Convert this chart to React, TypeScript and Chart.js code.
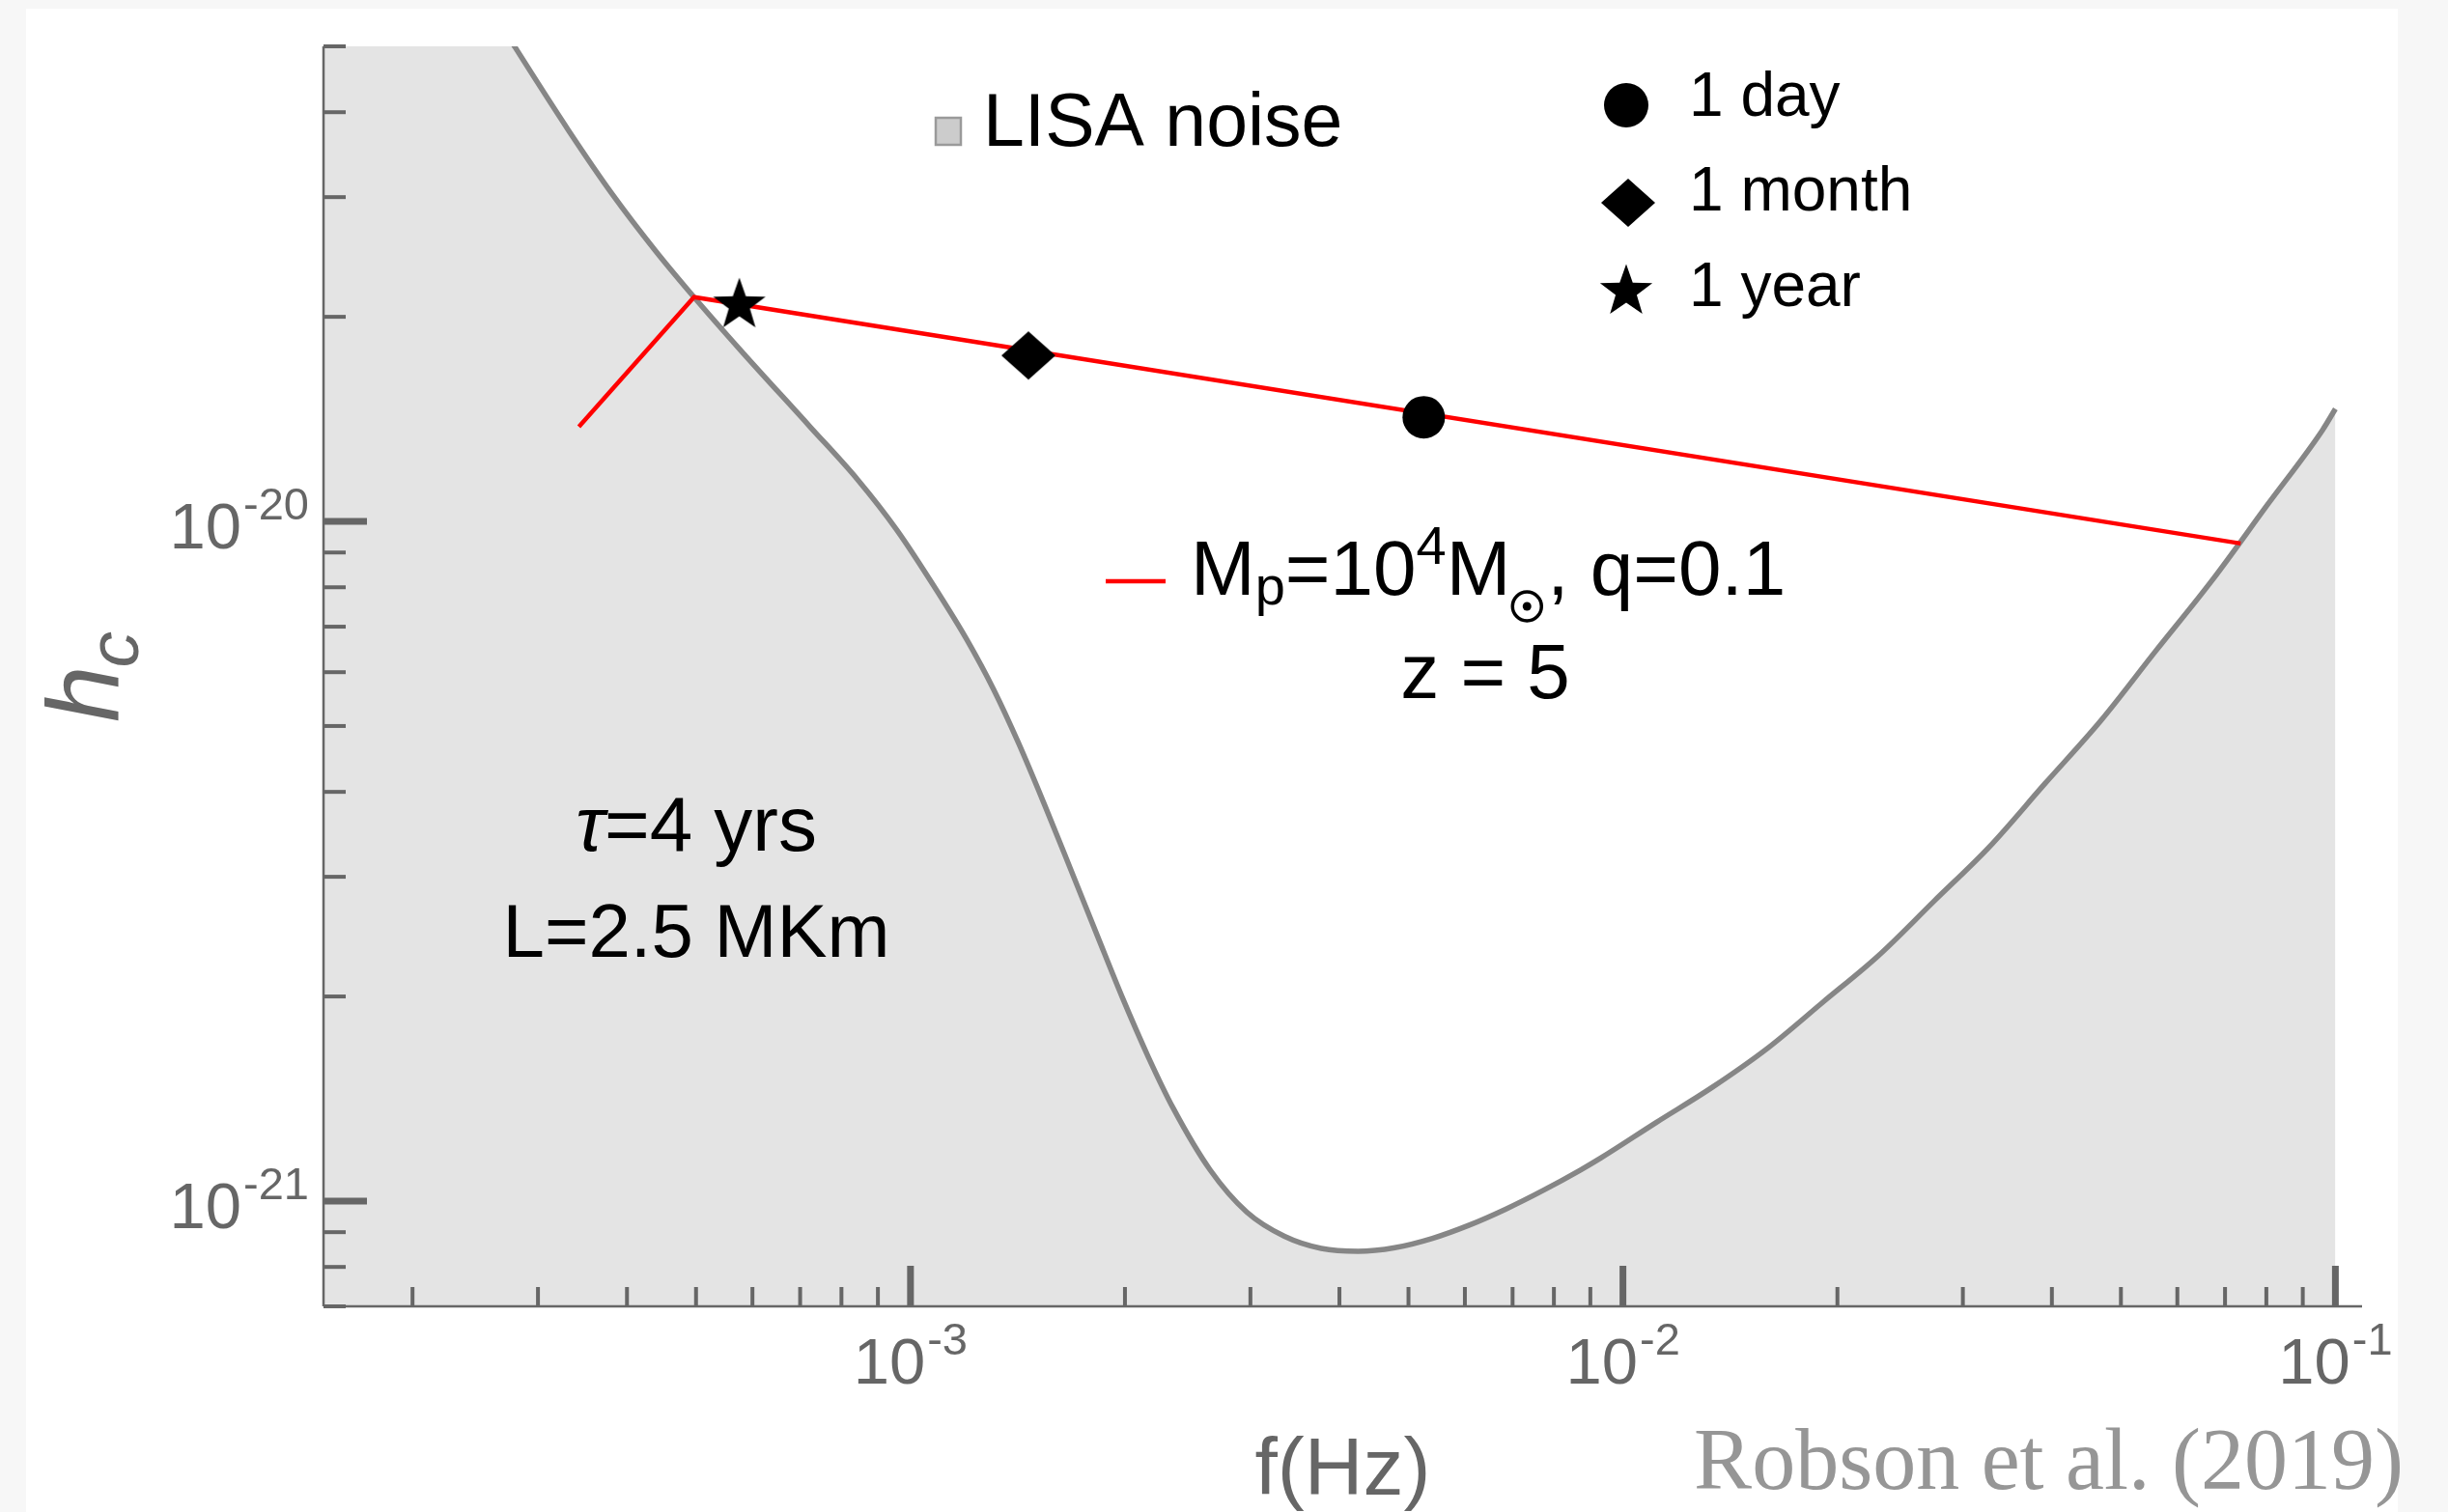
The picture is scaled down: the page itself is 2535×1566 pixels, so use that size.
import React, { useEffect, useRef } from "react";
import { Chart, registerables } from "chart.js";

Chart.register(...registerables);

// ---------------- data ----------------
const noiseFreq = [
  1.5e-4, 2.0e-4, 2.781e-4, 3.309e-4, 3.808e-4, 4.383e-4, 4.968e-4, 5.788e-4, 7.224e-4, 8.423e-4,
  9.572e-4, 1.098e-3, 1.199e-3, 1.308e-3, 1.419e-3, 1.544e-3, 1.68e-3, 1.828e-3, 1.982e-3, 2.157e-3,
  2.339e-3, 2.634e-3, 2.966e-3, 3.35e-3, 3.772e-3, 4.248e-3, 4.784e-3, 5.403e-3, 6.085e-3, 6.853e-3,
  7.717e-3, 8.717e-3, 9.307e-3, 1.112e-2, 1.333e-2, 1.598e-2, 1.91e-2, 2.282e-2, 2.735e-2, 3.268e-2,
  3.916e-2, 4.681e-2, 5.593e-2, 6.704e-2, 8.012e-2, 9.602e-2, 0.1,
];
const noiseHc = [
  1.5e-19, 8.7e-20, 5.0e-20, 3.766e-20, 3.038e-20, 2.504e-20, 2.138e-20, 1.781e-20, 1.379e-20, 1.153e-20,
  9.707e-21, 7.799e-21, 6.706e-21, 5.661e-21, 4.71e-21, 3.818e-21, 3.068e-21, 2.461e-21, 1.996e-21, 1.629e-21,
  1.368e-21, 1.111e-21, 9.628e-22, 8.872e-22, 8.517e-22, 8.434e-22, 8.539e-22, 8.814e-22, 9.218e-22, 9.735e-22,
  1.036e-21, 1.111e-21, 1.157e-21, 1.304e-21, 1.469e-21, 1.68e-21, 1.963e-21, 2.295e-21, 2.764e-21, 3.32e-21,
  4.119e-21, 5.085e-21, 6.443e-21, 8.175e-21, 1.055e-20, 1.365e-20, 1.464e-20,
];
const signalFreq = [3.424e-4, 4.968e-4, 7.362e-2];
const signalHc = [1.378e-20, 2.138e-20, 9.28e-21];

const markerLabels = ["1 day", "1 month", "1 year"];
const markerFreq = [5.253e-3, 1.464e-3, 5.751e-4];
const markerHc = [1.423e-20, 1.754e-20, 2.087e-20];

const xMajorExps = [-3, -2, -1];
const yMajorExps = [-21, -20];
const xDecades = [-4, -3, -2, -1];
const yDecades = [-22, -21, -20];

const X_MIN = 1.5e-4;
const X_MAX = 0.109;
const Y_MIN = 7e-22;
const Y_MAX = 5e-20;

const SANS = '"Liberation Sans", Arial, Helvetica, sans-serif';
const SERIF = '"Liberation Serif", "Times New Roman", serif';
const AXIS = "#666666";

function makeStar(): HTMLCanvasElement {
  const c = document.createElement("canvas");
  c.width = 60;
  c.height = 60;
  const g = c.getContext("2d")!;
  g.fillStyle = "#000";
  g.beginPath();
  const R = 28.5;
  const r = 11.5;
  for (let i = 0; i < 10; i++) {
    const a = -Math.PI / 2 + (i * Math.PI) / 5;
    const rad = i % 2 === 0 ? R : r;
    const px = 30 + rad * Math.cos(a);
    const py = 31 + rad * Math.sin(a);
    if (i === 0) g.moveTo(px, py);
    else g.lineTo(px, py);
  }
  g.closePath();
  g.fill();
  return c;
}

function makeDiamond(): HTMLCanvasElement {
  const c = document.createElement("canvas");
  c.width = 58;
  c.height = 52;
  const g = c.getContext("2d")!;
  g.fillStyle = "#000";
  g.beginPath();
  g.moveTo(29, 1);
  g.lineTo(57, 26);
  g.lineTo(29, 51);
  g.lineTo(1, 26);
  g.closePath();
  g.fill();
  return c;
}

function drawPow(ctx: CanvasRenderingContext2D, exp: number, x: number, baseline: number, align: string) {
  const base = "10";
  const sup = "-" + Math.abs(exp);
  ctx.font = `67px ${SANS}`;
  const w1 = ctx.measureText(base).width;
  ctx.font = `47px ${SANS}`;
  const w2 = ctx.measureText(sup).width;
  const gap = 2;
  const total = w1 + gap + w2;
  const start = align === "right" ? x - total : x - total / 2;
  ctx.textAlign = "left";
  ctx.textBaseline = "alphabetic";
  ctx.fillStyle = AXIS;
  ctx.font = `67px ${SANS}`;
  ctx.fillText(base, start, baseline);
  ctx.font = `47px ${SANS}`;
  ctx.fillText(sup, start + w1 + gap, baseline - 30);
}

export default function App() {
  const canvasRef = useRef<HTMLCanvasElement | null>(null);

  useEffect(() => {
    const canvas = canvasRef.current;
    if (!canvas) return;
    const star = makeStar();
    const diamond = makeDiamond();

    const decorPlugin = {
      id: "decor",
      beforeDraw(chart: any) {
        const ctx = chart.ctx as CanvasRenderingContext2D;
        ctx.save();
        ctx.fillStyle = "#f7f7f7";
        ctx.fillRect(0, 0, chart.width, chart.height);
        ctx.fillStyle = "#ffffff";
        ctx.fillRect(27, 9, 2456, chart.height - 9);
        ctx.restore();
      },
      afterDatasetsDraw(chart: any) {
        const ctx = chart.ctx as CanvasRenderingContext2D;
        const xs = chart.scales.x;
        const ys = chart.scales.y;
        const { left, right, top, bottom } = chart.chartArea;
        ctx.save();
        ctx.lineCap = "butt";
        ctx.strokeStyle = AXIS;

        // axis lines
        ctx.lineWidth = 2.5;
        ctx.beginPath();
        ctx.moveTo(left, top);
        ctx.lineTo(left, bottom);
        ctx.moveTo(left, bottom);
        ctx.lineTo(right, bottom);
        ctx.stroke();

        // x ticks
        for (const d of xDecades) {
          for (let m = 1; m <= 9; m++) {
            const v = m * Math.pow(10, d);
            if (v < X_MIN * 0.999 || v > X_MAX * 1.001) continue;
            const major = m === 1;
            const px = xs.getPixelForValue(v);
            ctx.lineWidth = major ? 7 : 4;
            ctx.beginPath();
            ctx.moveTo(px, bottom);
            ctx.lineTo(px, bottom - (major ? 42 : 20));
            ctx.stroke();
          }
        }
        // y ticks
        for (const d of yDecades) {
          for (let m = 1; m <= 9; m++) {
            const v = m * Math.pow(10, d);
            if (v < Y_MIN * 0.999 || v > Y_MAX * 1.001) continue;
            const major = m === 1;
            const py = ys.getPixelForValue(v);
            ctx.lineWidth = major ? 7 : 4;
            ctx.beginPath();
            ctx.moveTo(left, py);
            ctx.lineTo(left + (major ? 45 : 23), py);
            ctx.stroke();
          }
        }

        // tick labels
        for (const e of xMajorExps) {
          const px = xs.getPixelForValue(Math.pow(10, e));
          drawPow(ctx, e, px, bottom + 80, "center");
        }
        for (const e of yMajorExps) {
          const py = ys.getPixelForValue(Math.pow(10, e));
          drawPow(ctx, e, left - 15, py + 28, "right");
        }

        // axis titles
        ctx.fillStyle = AXIS;
        ctx.textAlign = "center";
        ctx.font = `84px ${SANS}`;
        ctx.fillText("f(Hz)", (left + right) / 2, 1548);

        ctx.save();
        ctx.translate(123, 748);
        ctx.rotate(-Math.PI / 2);
        ctx.textAlign = "left";
        ctx.font = `italic 105px ${SANS}`;
        ctx.fillText("h", 0, 0);
        const hw = ctx.measureText("h").width;
        ctx.font = `italic 75px ${SANS}`;
        ctx.fillText("c", hw - 2, 20);
        ctx.restore();

        // credit
        ctx.fillStyle = "#969696";
        ctx.textAlign = "right";
        ctx.font = `90px ${SERIF}`;
        ctx.fillText("Robson et al. (2019)", 2489, 1542);

        // annotation: tau / L
        ctx.fillStyle = "#000";
        ctx.textAlign = "left";
        ctx.font = `italic 80px ${SANS}`;
        const wt = ctx.measureText("τ").width;
        ctx.font = `80px ${SANS}`;
        const wr = ctx.measureText("=4 yrs").width;
        const sx = 721 - (wt + wr) / 2;
        ctx.font = `italic 80px ${SANS}`;
        ctx.fillText("τ", sx, 881);
        ctx.font = `80px ${SANS}`;
        ctx.fillText("=4 yrs", sx + wt, 881);
        ctx.textAlign = "center";
        ctx.font = `78px ${SANS}`;
        ctx.fillText("L=2.5 MKm", 721, 991);

        // LISA noise legend
        ctx.fillStyle = "#cccccc";
        ctx.fillRect(969, 122, 26, 28);
        ctx.strokeStyle = "#9a9a9a";
        ctx.lineWidth = 2.5;
        ctx.strokeRect(969, 122, 26, 28);
        ctx.fillStyle = "#000";
        ctx.textAlign = "left";
        ctx.font = `77px ${SANS}`;
        ctx.fillText("LISA noise", 1018, 151);

        // marker legend
        ctx.beginPath();
        ctx.arc(1684, 109, 23, 0, Math.PI * 2);
        ctx.fill();
        ctx.drawImage(diamond, 1686 - diamond.width / 2, 210 - diamond.height / 2);
        ctx.drawImage(star, 1684 - star.width / 2, 301 - star.height / 2);
        ctx.font = `64px ${SANS}`;
        const legendBase = [120, 218, 317];
        markerLabels.forEach((t, i) => ctx.fillText(t, 1749, legendBase[i]));

        // signal legend
        ctx.strokeStyle = "#ff0000";
        ctx.lineWidth = 4.5;
        ctx.beginPath();
        ctx.moveTo(1145, 602);
        ctx.lineTo(1207, 602);
        ctx.stroke();

        let x = 1233;
        const b = 616;
        ctx.fillStyle = "#000";
        ctx.textAlign = "left";
        const seg = (t: string, size: number, dy: number) => {
          ctx.font = `${size}px ${SANS}`;
          ctx.fillText(t, x, b + dy);
          x += ctx.measureText(t).width;
        };
        seg("M", 80, 0);
        seg("p", 56, 10);
        seg("=10", 80, 0);
        seg("4", 56, -32);
        seg("M", 80, 0);
        ctx.strokeStyle = "#000";
        ctx.lineWidth = 3.5;
        ctx.beginPath();
        ctx.arc(x + 17, b + 12, 15, 0, Math.PI * 2);
        ctx.stroke();
        ctx.beginPath();
        ctx.arc(x + 17, b + 12, 4.5, 0, Math.PI * 2);
        ctx.fill();
        x += 38;
        seg(", q=0.1", 80, 0);
        ctx.textAlign = "center";
        ctx.font = `80px ${SANS}`;
        ctx.fillText("z = 5", 1538, 723);

        ctx.restore();
      },
    };

    const chart = new Chart(canvas, {
      type: "line",
      data: {
        datasets: [
          {
            label: "markers",
            data: markerFreq.map((f, i) => ({ x: f, y: markerHc[i] })),
            showLine: false,
            pointStyle: ["circle", diamond, star] as any,
            pointRadius: [22, 25, 27],
            pointBackgroundColor: "#000",
            pointBorderColor: "#000",
            pointBorderWidth: 0,
            order: 0,
            clip: false as any,
          },
          {
            label: "signal",
            data: signalFreq.map((f, i) => ({ x: f, y: signalHc[i] })),
            borderColor: "#ff0000",
            borderWidth: 4.5,
            pointRadius: 0,
            tension: 0,
            fill: false,
            order: 1,
          },
          {
            label: "LISA noise",
            data: noiseFreq.map((f, i) => ({ x: f, y: noiseHc[i] })),
            borderColor: "#868686",
            borderWidth: 5.5,
            backgroundColor: "#e4e4e4",
            fill: { value: Y_MIN } as any,
            pointRadius: 0,
            cubicInterpolationMode: "monotone",
            order: 2,
            clip: 0 as any,
          },
        ],
      },
      options: {
        responsive: false,
        animation: false,
        devicePixelRatio: 1,
        events: [],
        layout: { padding: { left: 335, top: 48, right: 89, bottom: 213 } },
        plugins: {
          legend: { display: false },
          tooltip: { enabled: false },
        },
        scales: {
          x: { type: "logarithmic", min: X_MIN, max: X_MAX, display: false, bounds: "data" },
          y: { type: "logarithmic", min: Y_MIN, max: Y_MAX, display: false, bounds: "data" },
        },
      },
      plugins: [decorPlugin],
    } as any);

    return () => chart.destroy();
  }, []);

  return (
    <div style={{ position: "absolute", left: 0, top: 0, width: 2535, height: 1566, background: "#f7f7f7" }}>
      <canvas ref={canvasRef} width={2535} height={1566} style={{ display: "block", width: 2535, height: 1566 }} />
    </div>
  );
}
